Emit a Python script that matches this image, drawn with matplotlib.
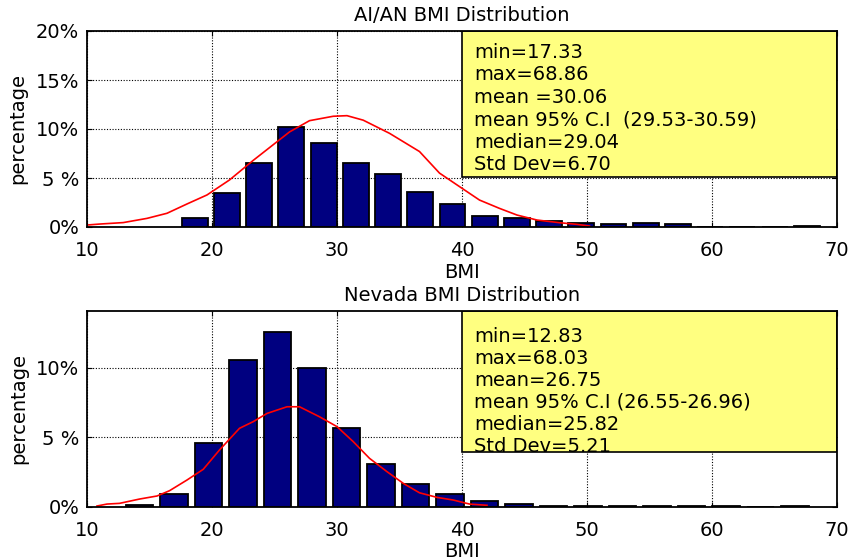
import matplotlib
matplotlib.use("Agg")
import matplotlib.pyplot as plt
from matplotlib.patches import Rectangle

plt.rcParams['font.family'] = ['DejaVu Sans']

# ---------------- data ----------------
top_title = "AI/AN BMI Distribution"
top_centers = [18.62, 21.19, 23.77, 26.35, 28.93, 31.50, 34.08, 36.66, 39.24, 41.81,
               44.39, 46.97, 49.55, 52.12, 54.70, 57.28, 59.86, 62.43, 65.01, 67.59]
top_heights = [0.9, 3.45, 6.55, 10.2, 8.55, 6.55, 5.4, 3.55, 2.3, 1.15,
               0.88, 0.6, 0.45, 0.3, 0.45, 0.33, 0.0, 0.0, 0.0, 0.15]
top_bin_width = 2.5765
top_curve_x = [10, 11.0, 12.9, 14.8, 16.4, 18.0, 19.6, 21.4, 23.3, 25.2, 26.2, 27.8, 29.7,
               30.8, 32.1, 34.2, 36.6, 38.2, 40.0, 41.4, 43.0, 44.4, 46.0, 47.8, 49.2, 50.2]
top_curve_y = [0.2, 0.3, 0.45, 0.88, 1.4, 2.35, 3.27, 4.8, 6.8, 8.7, 9.7, 10.85, 11.3,
               11.36, 10.9, 9.56, 7.7, 5.5, 3.95, 2.75, 1.9, 1.22, 0.71, 0.44, 0.27, 0.1]
top_stats = ["min=17.33", "max=68.86", "mean =30.06", "mean 95% C.I  (29.53-30.59)",
             "median=29.04", "Std Dev=6.70"]
top_yticks = [0, 5, 10, 15, 20]
top_yticklabels = ["0%", "5 %", "10%", "15%", "20%"]

bot_title = "Nevada BMI Distribution"
bot_centers = [14.21, 16.97, 19.73, 22.49, 25.25, 28.01, 30.77, 33.53, 36.29, 39.05,
               41.81, 44.57, 47.33, 50.09, 52.85, 55.61, 58.37, 61.13, 63.89, 66.65]
bot_heights = [0.1, 0.91, 4.6, 10.53, 12.6, 10.0, 5.64, 3.05, 1.6, 0.91,
               0.41, 0.19, 0.07, 0.07, 0.07, 0.07, 0.07, 0.07, 0.0, 0.07]
bot_bin_width = 2.76
bot_curve_x = [10.8, 11.6, 12.6, 14.2, 15.6, 16.6, 18.0, 19.3, 20.6, 22.2, 23.3, 24.4, 26.0,
               27.0, 28.6, 30.0, 31.3, 32.6, 34.0, 35.3, 36.6, 38.0, 39.3, 40.6, 42.0]
bot_curve_y = [0.05, 0.19, 0.24, 0.55, 0.77, 1.15, 1.92, 2.69, 4.08, 5.64, 6.12, 6.71, 7.19,
               7.19, 6.47, 5.76, 4.68, 3.48, 2.52, 1.68, 1.0, 0.67, 0.48, 0.19, 0.1]
bot_stats = ["min=12.83", "max=68.03", "mean=26.75", "mean 95% C.I (26.55-26.96)",
             "median=25.82", "Std Dev=5.21"]
bot_yticks = [0, 5, 10]
bot_yticklabels = ["0%", "5 %", "10%"]

xticks = [10, 20, 30, 40, 50, 60, 70]

# ---------------- figure ----------------
W, H = 858, 560
fig = plt.figure(figsize=(W / 100, H / 100), dpi=100)
FS = 14


def panel(rect, title, centers, heights, binw, cx, cy, stats, ymax, yticks, yticklabels,
          box_bottom, text_top, text_step):
    ax = fig.add_axes(rect)
    ax.set_xlim(10, 70)
    ax.set_ylim(0, ymax)
    ax.grid(True, color='black', linestyle=(0, (1, 1.5)), linewidth=0.8, zorder=0)
    ax.set_axisbelow(True)
    ax.bar(centers, heights, width=binw * 0.8, color='#000080', edgecolor='black',
           linewidth=1.3, zorder=2)
    ax.plot(cx, cy, color='red', linewidth=1.2, zorder=3)
    box = Rectangle((0.5, box_bottom), 0.5, 1 - box_bottom, transform=ax.transAxes,
                    facecolor='#FFFF80', edgecolor='black', linewidth=1.2, zorder=4)
    ax.add_patch(box)
    for i, s in enumerate(stats):
        t = ax.text(0.5165, text_top - i * text_step, s, transform=ax.transAxes,
                    fontsize=FS, va='baseline', ha='left', zorder=5)
        t.set_clip_path(box)
    ax.set_xticks(xticks)
    ax.set_xticklabels([str(v) for v in xticks])
    ax.set_yticks(yticks)
    ax.set_yticklabels(yticklabels)
    ax.tick_params(direction='in', length=3.5, width=0.8, top=True, right=True,
                   labelsize=FS)
    ax.tick_params(axis='x', pad=10)
    ax.tick_params(axis='y', pad=5.5)
    for sp in ax.spines.values():
        sp.set_linewidth(1.3)
        sp.set_zorder(6)
    ax.set_title(title, fontsize=FS, pad=7)
    ax.set_xlabel("BMI", fontsize=FS, labelpad=2)
    ax.set_ylabel("percentage", fontsize=FS, labelpad=6)
    return ax


left = 87 / W
width = (837 - 87) / W

panel([left, 1 - 227 / H, width, 196 / H], top_title, top_centers, top_heights,
      top_bin_width, top_curve_x, top_curve_y, top_stats, 20, top_yticks, top_yticklabels,
      box_bottom=0.2566, text_top=0.862, text_step=0.1143)

panel([left, 1 - 506.7 / H, width, 195.7 / H], bot_title, bot_centers, bot_heights,
      bot_bin_width, bot_curve_x, bot_curve_y, bot_stats, 14.08, bot_yticks, bot_yticklabels,
      box_bottom=0.278, text_top=0.8416, text_step=0.1124)

fig.savefig("out.png", dpi=100)
